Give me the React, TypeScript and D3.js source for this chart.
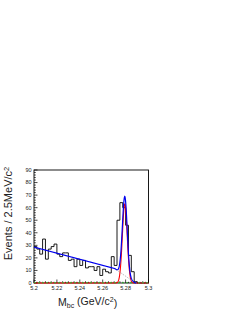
import React, { useRef, useEffect } from "react";
import * as d3 from "d3";

// histogram: events per 2.5 MeV bin, Mbc from 5.2 to 5.3
const binLow = 5.2;
const binWidth = 0.0025;
const counts: number[] = [
  29, 27, 23, 35, 19, 27, 29, 31, 23, 21,
  24, 24, 18, 19, 13, 19, 14, 18, 12, 13,
  13, 10, 13, 6, 11, 9, 8, 21, 14, 50,
  64, 60, 46, 22, 9, 1, 0, 0, 0, 0,
];

const bkgMass = [5.2, 5.2705, 5.2885];
const bkgLevel = [28.6, 11.5, 0];

// signal gaussian (red)
const sigMean = 5.2793;
const sigSigma = 0.0021;
const sigAmp = 63;

const yTicks = [0, 10, 20, 30, 40, 50, 60, 70, 80, 90];
const xTicks = [5.2, 5.22, 5.24, 5.26, 5.28, 5.3];

const App: React.FC = () => {
  const svgRef = useRef<SVGSVGElement | null>(null);

  useEffect(() => {
    const width = 245;
    const height = 317;
    const frame = { left: 34, right: 148.5, top: 170, bottom: 283 };
    const font = "'Liberation Sans', Arial, sans-serif";

    const svg = d3.select(svgRef.current);
    svg.selectAll("*").remove();
    svg.attr("width", width).attr("height", height);

    const x = d3.scaleLinear().domain([5.2, 5.3]).range([frame.left, frame.right]);
    const y = d3.scaleLinear().domain([0, 90]).range([frame.bottom, frame.top]);

    const bkg = d3.scaleLinear().domain(bkgMass).range(bkgLevel).clamp(true);
    const sig = (m: number) =>
      sigAmp * Math.exp(-0.5 * ((m - sigMean) / sigSigma) ** 2);

    // frame
    svg
      .append("rect")
      .attr("x", frame.left)
      .attr("y", frame.top)
      .attr("width", frame.right - frame.left)
      .attr("height", frame.bottom - frame.top)
      .attr("fill", "none")
      .attr("stroke", "#000")
      .attr("stroke-width", 0.9);

    // y ticks (inside), major 10, minor 2
    const g = svg.append("g");
    d3.range(0, 90.01, 2).forEach((v) => {
      const major = v % 10 === 0;
      g.append("line")
        .attr("x1", frame.left)
        .attr("x2", frame.left + (major ? 3.5 : 1.8))
        .attr("y1", y(v))
        .attr("y2", y(v))
        .attr("stroke", "#000")
        .attr("stroke-width", 0.7);
    });
    d3.range(0, 41).forEach((k) => {
      const v = binLow + k * binWidth;
      const major = k % 8 === 0;
      const mid = k % 2 === 0;
      g.append("line")
        .attr("x1", x(v))
        .attr("x2", x(v))
        .attr("y1", frame.bottom)
        .attr("y2", frame.bottom - (major ? 3.5 : mid ? 1.8 : 1.2))
        .attr("stroke", "#000")
        .attr("stroke-width", 0.7);
    });

    // tick labels
    g.selectAll(".yl")
      .data(yTicks)
      .join("text")
      .attr("x", frame.left - 2.5)
      .attr("y", (d) => y(d))
      .attr("dy", "0.35em")
      .attr("text-anchor", "end")
      .style("font-family", font)
      .style("font-size", "5.5px")
      .style("fill", "#222")
      .text((d) => d);
    g.selectAll(".xl")
      .data(xTicks)
      .join("text")
      .attr("x", (d) => x(d))
      .attr("y", frame.bottom + 7)
      .attr("text-anchor", "middle")
      .style("font-family", font)
      .style("font-size", "5.5px")
      .style("fill", "#222")
      .text((d) => d3.format("~g")(d));

    // histogram outline
    const steps: [number, number][] = [];
    counts.forEach((c, k) => {
      steps.push([binLow + k * binWidth, c]);
      steps.push([binLow + (k + 1) * binWidth, c]);
    });
    svg
      .append("path")
      .datum(steps)
      .attr("fill", "none")
      .attr("stroke", "#000")
      .attr("stroke-width", 0.9)
      .attr("d", d3.line<[number, number]>().x((d) => x(d[0])).y((d) => y(d[1])));

    const grid = d3.range(5.2, 5.3001, 0.0002);

    // red signal curve
    svg
      .append("path")
      .datum(grid)
      .attr("fill", "none")
      .attr("stroke", "#ff0000")
      .attr("stroke-width", 1.1)
      .attr("d", d3.line<number>().x((m) => x(m)).y((m) => y(sig(m))));

    // green dashed component along zero
    svg
      .append("path")
      .datum([5.2, 5.3])
      .attr("fill", "none")
      .attr("stroke", "#33bb33")
      .attr("stroke-width", 1.1)
      .attr("stroke-dasharray", "2,2")
      .attr("d", d3.line<number>().x((m) => x(m)).y(() => y(0.2)));

    // dotted background
    svg
      .append("path")
      .datum(grid.filter((m) => m >= 5.27))
      .attr("fill", "none")
      .attr("stroke", "#888")
      .attr("stroke-width", 0.8)
      .attr("stroke-dasharray", "1,1.2")
      .attr("d", d3.line<number>().x((m) => x(m)).y((m) => y(bkg(m))));

    // blue total fit
    svg
      .append("path")
      .datum(grid.filter((m) => m <= 5.2895))
      .attr("fill", "none")
      .attr("stroke", "#0000ee")
      .attr("stroke-width", 1.2)
      .attr("d", d3.line<number>().x((m) => x(m)).y((m) => y(bkg(m) + sig(m))));

    // axis titles
    svg
      .append("text")
      .attr("transform", `translate(12,${(frame.top + frame.bottom) / 2 - 13}) rotate(-90)`)
      .attr("text-anchor", "middle")
      .style("font-family", font)
      .style("font-size", "11px")
      .style("fill", "#222")
      .text("Events / 2.5MeV/c")
      .append("tspan")
      .attr("dy", "-0.45em")
      .style("font-size", "7.5px")
      .text("2");

    const xt = svg
      .append("text")
      .attr("x", 58)
      .attr("y", 306)
      .style("font-family", font)
      .style("font-size", "10.5px")
      .style("fill", "#222");
    xt.append("tspan").text("M");
    xt.append("tspan").attr("dy", "0.3em").style("font-size", "7px").text("bc");
    xt.append("tspan").attr("dy", "-0.3em").text(" (GeV/c");
    xt.append("tspan").attr("dy", "-0.45em").style("font-size", "7px").text("2");
    xt.append("tspan").attr("dy", "0.45em").text(")");
  }, []);

  return (
    <div style={{ position: "absolute", left: 0, top: 0 }}>
      <svg ref={svgRef} style={{ background: "#fff", display: "block" }}></svg>
    </div>
  );
};

export default App;
